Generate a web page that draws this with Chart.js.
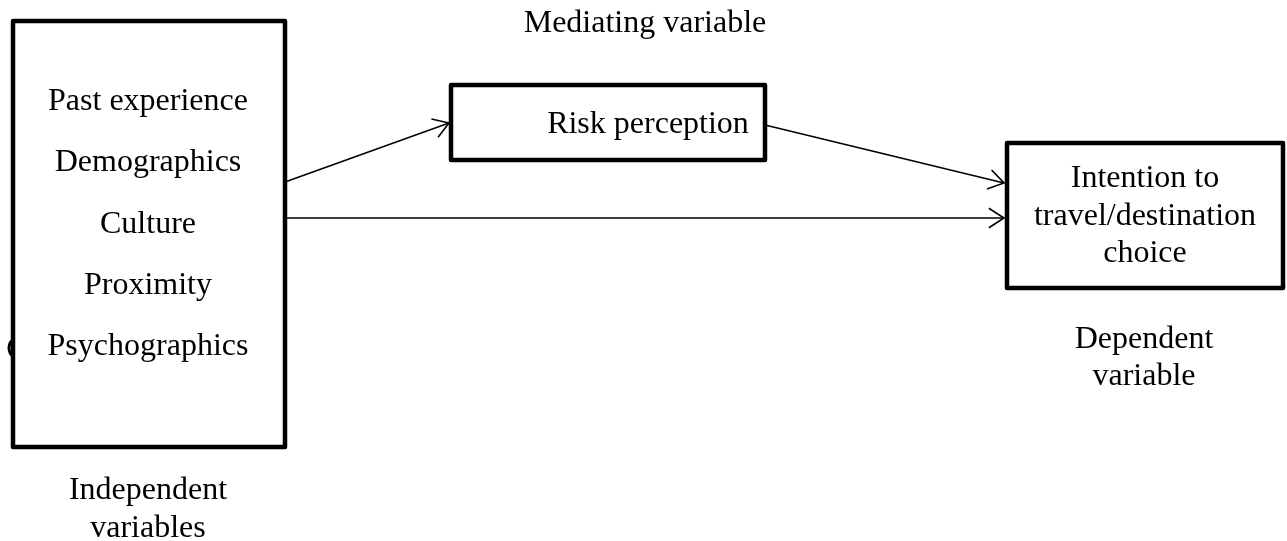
<!DOCTYPE html>
<html>
<head>
<meta charset="utf-8">
<style>
  html, body { margin: 0; padding: 0; background: #fff; }
  #wrap { width: 1287px; height: 541px; }
</style>
<script src="https://cdn.jsdelivr.net/npm/chart.js@4/dist/chart.umd.min.js"></script>
</head>
<body>
<div id="wrap"><canvas id="myChart"></canvas></div>
<script>
// Diagram text
const independentFactors = ['Past experience', 'Demographics', 'Culture', 'Proximity', 'Psychographics'];
const mediatorLabel = ['Risk perception'];
const dependentLabel = ['Intention to', 'travel/destination', 'choice'];
const captionIndependent = ['Independent', 'variables'];
const captionMediator = ['Mediating variable'];
const captionDependent = ['Dependent', 'variable'];

// Layout in diagram units (x 0..1287, y 0..541 from the top)
const boxes = {
    independent: { x1: 13, y1: 21, x2: 285, y2: 447 },
    mediator: { x1: 451, y1: 85, x2: 765, y2: 160 },
    dependent: { x1: 1007, y1: 143, x2: 1283, y2: 288 }
};
const arrows = [
    { from: [285, 182], to: [449, 123] },
    { from: [765, 125], to: [1004, 183] },
    { from: [285, 218], to: [1004, 218] }
];

const FONT = '32px "Liberation Serif", "Times New Roman", serif';

const diagramPlugin = {
    id: 'diagram',
    afterDraw(chart) {
        const c = chart.ctx;
        const xs = chart.scales.x, ys = chart.scales.y;
        const px = v => xs.getPixelForValue(v);
        const py = v => ys.getPixelForValue(v);

        c.save();
        c.strokeStyle = '#000';
        c.fillStyle = '#000';

        // stray glyph fragment left of the first box
        c.lineWidth = 3;
        c.beginPath();
        c.ellipse(px(14), py(348), 5, 8, 0, Math.PI * 0.5, Math.PI * 1.5);
        c.stroke();

        // boxes
        c.lineWidth = 4.5;
        c.lineJoin = 'round';
        Object.values(boxes).forEach(b => {
            c.fillStyle = '#fff';
            c.fillRect(px(b.x1), py(b.y1), px(b.x2) - px(b.x1), py(b.y2) - py(b.y1));
            c.strokeRect(px(b.x1), py(b.y1), px(b.x2) - px(b.x1), py(b.y2) - py(b.y1));
        });

        // arrows with open heads
        c.lineWidth = 1.6;
        c.lineJoin = 'miter';
        arrows.forEach(a => {
            const x0 = px(a.from[0]), y0 = py(a.from[1]);
            const x1 = px(a.to[0]), y1 = py(a.to[1]);
            c.beginPath();
            c.moveTo(x0, y0);
            c.lineTo(x1, y1);
            c.stroke();
            const ang = Math.atan2(y1 - y0, x1 - x0);
            const len = 18, spread = Math.PI / 5.5;
            c.beginPath();
            c.moveTo(x1 - len * Math.cos(ang - spread), y1 - len * Math.sin(ang - spread));
            c.lineTo(x1, y1);
            c.lineTo(x1 - len * Math.cos(ang + spread), y1 - len * Math.sin(ang + spread));
            c.stroke();
        });

        // text, placed by baseline
        c.fillStyle = '#000';
        c.font = FONT;
        c.textAlign = 'center';
        c.textBaseline = 'alphabetic';
        const lines = (arr, x, y0, step) => arr.forEach((t, i) => c.fillText(t, px(x), py(y0 + i * step)));

        lines(independentFactors, 148, 110, 61.3);
        lines(mediatorLabel, 648, 133, 0);
        lines(dependentLabel, 1145, 187, 37.5);
        lines(captionIndependent, 148, 499, 38);
        lines(captionMediator, 645, 32, 0);
        lines(captionDependent, 1144, 348, 37);
        c.restore();
    }
};

const ctx = document.getElementById('myChart');
new Chart(ctx, {
    type: 'scatter',
    data: { datasets: [{ data: [], pointRadius: 0 }] },
    options: {
        responsive: true,
        maintainAspectRatio: false,
        animation: false,
        layout: { padding: 0 },
        plugins: { legend: { display: false }, tooltip: { enabled: false } },
        scales: {
            x: { type: 'linear', min: 0, max: 1287, display: false },
            y: { type: 'linear', min: 0, max: 541, reverse: true, display: false }
        }
    },
    plugins: [diagramPlugin]
});
</script>
</body>
</html>
